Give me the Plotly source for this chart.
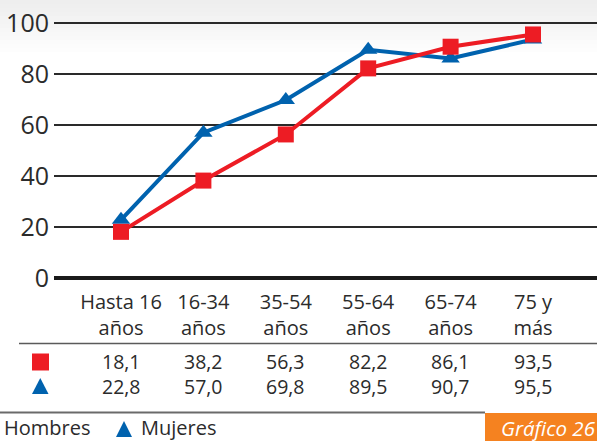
import plotly.graph_objects as go

# ---- data ----
categorias = ["Hasta 16<br>años", "16-34<br>años", "35-54<br>años", "55-64<br>años", "65-74<br>años", "75 y<br>más"]
# values as plotted by the lines in the chart
hombres_linea = [18.1, 38.2, 56.3, 82.2, 90.7, 95.5]
mujeres_linea = [22.8, 57.0, 69.8, 89.5, 86.1, 93.5]
# values printed in the table under the chart
hombres_tabla = [18.1, 38.2, 56.3, 82.2, 86.1, 93.5]
mujeres_tabla = [22.8, 57.0, 69.8, 89.5, 90.7, 95.5]
y_ticks = [0, 20, 40, 60, 80, 100]
etiqueta_grafico = "Gráfico 26"

W, H = 597, 441
FONT = "Open Sans"
RED = "#ED1C24"
BLUE = "#0062AE"
TXT = "#2b2b2b"


def px(x):
    return x / W


def py(y):
    return 1 - y / H


xs = list(range(len(categorias)))

fig = go.Figure()
fig.add_trace(go.Scatter(x=xs, y=mujeres_linea, mode="lines+markers", name="Mujeres",
                         line=dict(color=BLUE, width=4),
                         marker=dict(symbol="triangle-up", size=16, color=BLUE),
                         cliponaxis=False, showlegend=False))
fig.add_trace(go.Scatter(x=xs, y=hombres_linea, mode="lines+markers", name="Hombres",
                         line=dict(color=RED, width=4),
                         marker=dict(symbol="square", size=16, color=RED),
                         cliponaxis=False, showlegend=False))

# pixel geometry: y=0 at 278px, 100 at 23px
ppu = (278 - 23) / 100.0
y_top = 100 + 23 / ppu
y_bot = -(H - 278) / ppu
cat_w = 82.4
x_left = -(121 - 54) / cat_w
x_right = (597 - 121) / cat_w

fig.update_layout(
    width=W, height=H,
    margin=dict(l=0, r=0, t=0, b=0, pad=0),
    paper_bgcolor="white", plot_bgcolor="rgba(0,0,0,0)",
    xaxis=dict(domain=[54 / W, 1], range=[x_left, x_right], tickvals=xs, ticktext=categorias,
               showgrid=False, zeroline=False, showline=False, ticks="",
               anchor="free", position=py(288),
               tickfont=dict(family=FONT, size=20, color=TXT)),
    yaxis=dict(domain=[0, 1], range=[y_bot, y_top], tickvals=y_ticks,
               showgrid=True, gridcolor="#2a2a2a", gridwidth=1.5,
               zeroline=True, zerolinecolor="#1a1a1a", zerolinewidth=3.5,
               showline=False, ticks="", ticklabelstandoff=4,
               tickfont=dict(family=FONT, size=25, color=TXT)),
)

shapes = []
# soft grey gradient at the top
n = 14
for i in range(n):
    y0 = i * 56 / n
    y1 = (i + 1) * 56 / n
    g = int(238 + (255 - 238) * i / (n - 1))
    shapes.append(dict(type="rect", xref="paper", yref="paper", x0=0, x1=1,
                       y0=py(y1), y1=py(y0), line=dict(width=0),
                       fillcolor=f"rgb({g},{g},{g})", layer="below"))
# table lines
shapes.append(dict(type="line", xref="paper", yref="paper", x0=px(19), x1=1,
                   y0=py(343.5), y1=py(343.5), line=dict(color="#5a5a5a", width=1.5)))
shapes.append(dict(type="line", xref="paper", yref="paper", x0=0, x1=px(485),
                   y0=py(412.5), y1=py(412.5), line=dict(color="#6a6a6a", width=2)))
# table symbols
shapes.append(dict(type="rect", xref="paper", yref="paper", x0=px(32), x1=px(49),
                   y0=py(370.5), y1=py(353.5), line=dict(width=0), fillcolor=RED))
shapes.append(dict(type="path", xref="paper", yref="paper",
                   path=f"M {px(32)} {py(394)} L {px(48.5)} {py(394)} L {px(40.25)} {py(378)} Z",
                   line=dict(width=0), fillcolor=BLUE))
# legend triangle
shapes.append(dict(type="path", xref="paper", yref="paper",
                   path=f"M {px(116)} {py(437)} L {px(132)} {py(437)} L {px(124)} {py(421)} Z",
                   line=dict(width=0), fillcolor=BLUE))
# orange label box
shapes.append(dict(type="rect", xref="paper", yref="paper", x0=px(485), x1=1,
                   y0=0, y1=py(413), line=dict(width=0), fillcolor="#F58220"))
fig.update_layout(shapes=shapes)

ann = []
fmt = lambda v: f"{v:.1f}".replace(".", ",")
for i in xs:
    ann.append(dict(x=i, xref="x", y=py(374), yref="paper",
                    text=fmt(hombres_tabla[i]) + "<br>" + fmt(mujeres_tabla[i]),
                    showarrow=False, xanchor="center", yanchor="middle", align="center",
                    font=dict(family=FONT, size=19.5, color=TXT)))
ann.append(dict(x=px(2), xref="paper", y=py(427), yref="paper", text="Hombres",
                showarrow=False, xanchor="left", yanchor="middle",
                font=dict(family=FONT, size=20, color=TXT)))
ann.append(dict(x=px(139), xref="paper", y=py(427), yref="paper", text="Mujeres",
                showarrow=False, xanchor="left", yanchor="middle",
                font=dict(family=FONT, size=20, color=TXT)))
ann.append(dict(x=px(499), xref="paper", y=py(427.5), yref="paper", text="<i>" + etiqueta_grafico + "</i>",
                showarrow=False, xanchor="left", yanchor="middle",
                font=dict(family=FONT, size=20.5, color="white")))
fig.update_layout(annotations=ann)

fig.write_html("out.html", config={"displayModeBar": False},
               post_script="document.body.style.margin='0';document.body.style.overflow='hidden';")
